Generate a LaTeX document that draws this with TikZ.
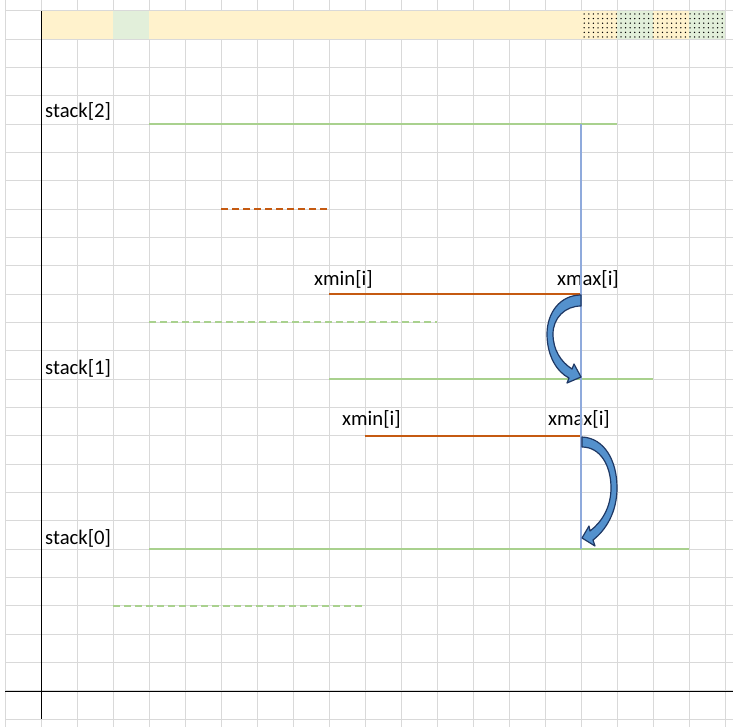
\documentclass[tikz,border=0pt]{standalone}
\usepackage{fontspec}
\setmainfont{Carlito}
\usetikzlibrary{patterns.meta}

\definecolor{gridgray}{RGB}{217,217,217}
\definecolor{bandyellow}{RGB}{255,242,204}
\definecolor{bandgreen}{RGB}{226,239,218}
\definecolor{stackgreen}{RGB}{169,209,142}
\definecolor{rangeorange}{RGB}{197,90,17}
\definecolor{limitblue}{RGB}{143,170,220}
\definecolor{arrowfill}{RGB}{84,145,205}
\definecolor{arrowedge}{RGB}{31,56,100}

\begin{document}
\begin{tikzpicture}[x=1pt,y=-1pt,
    stackline/.style={stackgreen, line width=2pt},
    rangeline/.style={rangeorange, line width=2pt},
    dashline/.style={dash pattern=on 7pt off 4pt},
    lbl/.style={anchor=base west, inner sep=0pt, font=\fontsize{20.7}{24}\selectfont},
    jump/.style={fill=arrowfill, draw=arrowedge, line width=1.2pt, line join=round}]
  \useasboundingbox (0,0) rectangle (733,727);

  % sheet grid
  \foreach \i in {0,...,20}
    \draw [gridgray, line width=1pt] ({5+36*\i},0) -- ({5+36*\i},727);
  \foreach \j in {0,...,25}
    \draw [gridgray, line width=1pt] (5,{11+28.333*\j}) -- (733,{11+28.333*\j});

  % header band
  \fill [bandyellow] (41,11) rectangle (725,39.3);
  \fill [bandgreen]  (113,11) rectangle (149,39.3);
  \fill [bandgreen]  (617,11) rectangle (653,39.3);
  \fill [bandgreen]  (689,11) rectangle (725,39.3);
  \fill [pattern={Dots[distance=4.6pt,radius=0.75pt]}] (581,11) rectangle (725,39.3);

  % axes
  \draw [black, line width=1pt] (41,11) -- (41,719);
  \draw [black, line width=1pt] (5,691) -- (733,691);

  % labels
  \node [lbl] (s2) at (45,118) {stack[2]};
  \node [lbl] (s1) at (45,374) {stack[1]};
  \node [lbl] (s0) at (45,544) {stack[0]};
  \node [lbl] (lo1) at (314,285) {xmin[i]};
  \node [lbl] (hi1) at (557,285) {xmax[i]};
  \node [lbl] (lo0) at (342,425) {xmin[i]};
  \node [lbl] (hi0) at (548,425) {xmax[i]};

  % intervals
  \draw [stackline]           (149,124) -- (617,124);
  \draw [rangeline, dashline] (221,209) -- (329,209);
  \draw [rangeline]           (329,294) -- (581,294);
  \draw [stackline, dashline] (149,322) -- (437,322);
  \draw [stackline]           (329,379) -- (653,379);
  \draw [rangeline]           (365,436) -- (581,436);
  \draw [stackline]           (149,549) -- (689,549);
  \draw [stackline, dashline] (113,606) -- (365,606);

  % xmax[i]
  \draw [limitblue, line width=2pt] (581,124) -- (581,549);

  % block arrows
  \draw [jump] (581,295) .. controls (560,295) and (547,313) .. (547,334)
    .. controls (547,356) and (557,372) .. (569,378) -- (567,383) -- (581,377)
    -- (574,364) -- (572,369) .. controls (561,362) and (553,350) .. (553,334)
    .. controls (553,318) and (565,306) .. (581,306) -- cycle;
  \draw [jump] (582,437) .. controls (604,438) and (617,460) .. (617,488)
    .. controls (617,512) and (606,530) .. (593,540) -- (595,546) -- (582,538)
    -- (589,526) -- (590,531) .. controls (602,522) and (611,507) .. (611,488)
    .. controls (611,465) and (600,447) .. (582,447) -- cycle;
\end{tikzpicture}
\end{document}
